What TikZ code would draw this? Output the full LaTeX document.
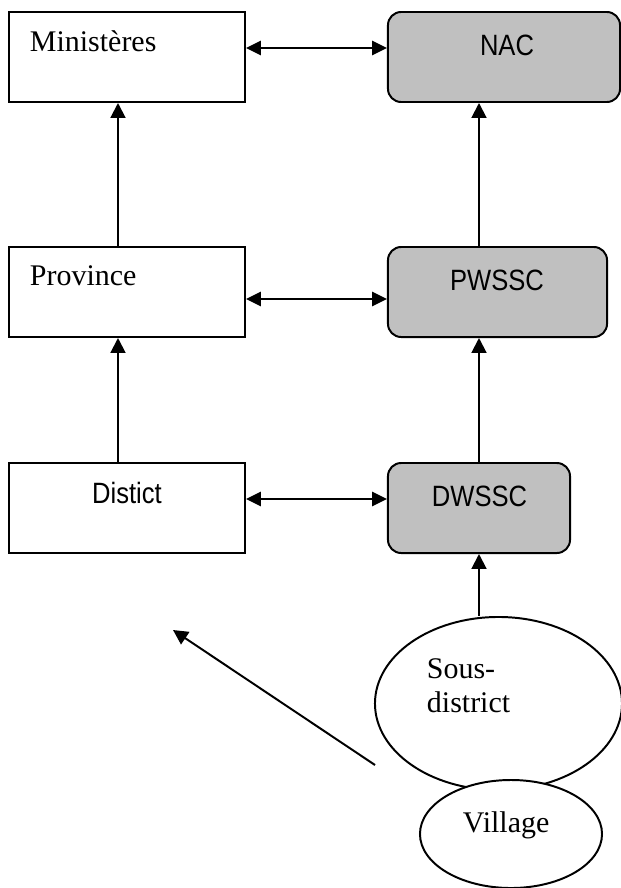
\documentclass[tikz,border=0pt]{standalone}
\usepackage{fontspec}
\setmainfont{Liberation Serif}
\newfontfamily\narrowsans[FakeStretch=0.87]{Liberation Sans}
\usetikzlibrary{shapes.geometric, arrows.meta}
\definecolor{boxgrey}{HTML}{C0C0C0}
\tikzstyle{arrow} = [line width=1.4pt,-{Triangle[length=10.5pt,width=10.5pt]}]
\tikzstyle{twoway} = [line width=1.4pt,{Triangle[length=10.5pt,width=10pt]}-{Triangle[length=10.5pt,width=10pt]}]

\begin{document}
\begin{tikzpicture}[x=0.025cm, y=-0.025cm,
		every node/.style={inner sep=0pt, line width=1.4pt},
		plainbox/.style={draw, rectangle, minimum width=5.9cm, minimum height=2.25cm},
		greybox/.style={draw, fill=boxgrey, rounded corners=0.33cm, minimum height=2.25cm},
		oval/.style={draw, ellipse},
		serif/.style={font=\fontsize{21.3pt}{24.2pt}\selectfont, anchor=base west},
		sans/.style={font=\narrowsans\fontsize{20.9pt}{24pt}\selectfont, anchor=base}]
	\useasboundingbox (0,0) rectangle (620,888);
	% left column
	\node[plainbox] (min) at (127,57) {};
	\node[plainbox] (prov) at (127,292) {};
	\node[plainbox] (dist) at (127,508) {};
	\node[serif] (min-text) at (29,51) {Ministères};
	\node[serif] (prov-text) at (29,285) {Province};
	\node[sans] (dist-text) at (127,503) {Distict};
	% right column
	\node[greybox, minimum width=5.8cm] (nac) at (504,57) {};
	\node[greybox, minimum width=5.475cm] (pws) at (497.5,292) {};
	\node[greybox, minimum width=4.55cm] (dws) at (479,508) {};
	\node[sans] (nac-text) at (507,55) {NAC};
	\node[sans] (pws-text) at (497,290) {PWSSC};
	\node[sans] (dws-text) at (479.5,506) {DWSSC};
	% ellipses
	\node[oval, minimum width=6.175cm, minimum height=4.325cm] (sous) at (498.5,703.5) {};
	\node[oval, fill=white, minimum width=4.55cm, minimum height=2.7cm] (vil) at (511,834) {};
	\node[serif] (sous-text1) at (426,678) {Sous-};
	\node[serif] (sous-text2) at (426,712) {district};
	\node[serif] (vil-text) at (462,832) {Village};
	% connectors
	\draw[twoway] ([yshift=0.225cm]min.east) -- ([yshift=0.225cm]nac.west);
	\draw[twoway] ([yshift=-0.175cm]prov.east) -- ([yshift=-0.175cm]pws.west);
	\draw[twoway] ([yshift=0.225cm]dist.east) -- ([yshift=0.225cm]dws.west);
	\draw[arrow] ([xshift=-0.225cm]prov.north) -- ([xshift=-0.225cm]min.south);
	\draw[arrow] ([xshift=-0.225cm]dist.north) -- ([xshift=-0.225cm]prov.south);
	\draw[arrow] (pws.north -| dws) -- (nac.south -| dws);
	\draw[arrow] (dws.north) -- (pws.south -| dws);
	\draw[arrow] (dws |- sous.north) -- (dws.south);
	\coordinate (diag-start) at (375,765);
	\coordinate (diag-end) at (173,630);
	\draw[arrow] (diag-start) -- (diag-end);
\end{tikzpicture}
\end{document}
